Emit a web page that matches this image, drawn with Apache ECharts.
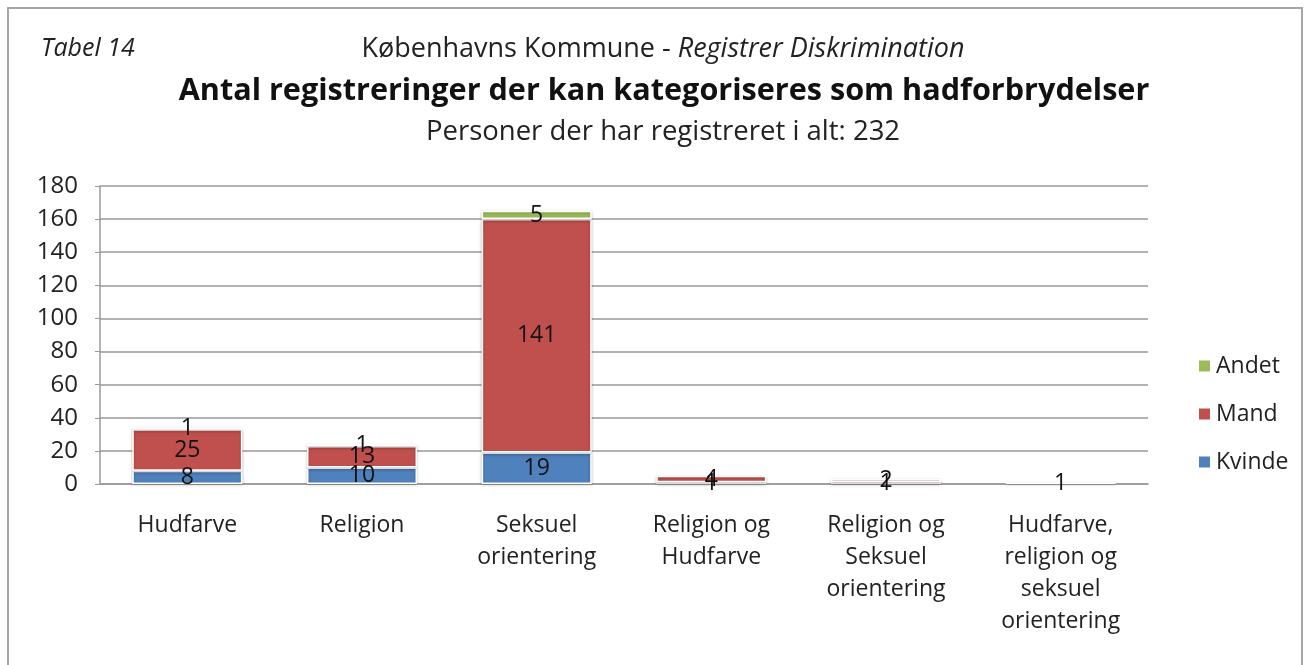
<!DOCTYPE html>
<html>
<head>
<meta charset="UTF-8">
<script src="https://cdn.jsdelivr.net/npm/echarts@6/dist/echarts.min.js"></script>
<style>
  html, body { margin: 0; padding: 0; background: #fff; }
  #frame { position: absolute; left: 7px; top: 7px; width: 1296px; height: 670px; border: 2px solid #a6a6a6; box-sizing: border-box; }
  #chart { width: 1311px; height: 665px; }
</style>
</head>
<body>
<div id="frame"></div>
<div id="chart"></div>
<script>
const categories = ['Hudfarve', 'Religion', 'Seksuel\norientering', 'Religion og\nHudfarve', 'Religion og\nSeksuel\norientering', 'Hudfarve,\nreligion og\nseksuel\norientering'];
const kvinde = [8, 10, 19, 1, 1, null];
const mand = [25, 13, 141, 4, 2, 1];
const andet = [1, 1, 5, null, null, null];
const yTicks = [0, 20, 40, 60, 80, 100, 120, 140, 160, 180];

const font = '"Open Sans", sans-serif';
const chart = echarts.init(document.getElementById('chart'));

function seriesOf(name, data, color) {
  return {
    name: name, type: 'bar', stack: 'total', data: data, barWidth: '63%',
    itemStyle: { color: color, borderColor: '#fff', borderWidth: 1.5, shadowColor: 'rgba(0,0,0,0.25)', shadowBlur: 3, shadowOffsetY: 1 },
    label: { show: true, position: 'inside', color: '#111', fontSize: 23, fontFamily: font }
  };
}

chart.setOption({
  animation: false,
  title: [
    { text: 'Tabel 14', left: 36, top: 31, textStyle: { fontSize: 25, fontStyle: 'italic', fontWeight: 'normal', color: '#222', fontFamily: font } },
    { text: '{n|Københavns Kommune - }{i|Registrer Diskrimination}', left: 658, textAlign: 'center', top: 31,
      textStyle: { rich: {
        n: { fontSize: 27, color: '#222', fontWeight: 'normal', fontFamily: font },
        i: { fontSize: 27, color: '#222', fontWeight: 'normal', fontStyle: 'italic', fontFamily: font } } } },
    { text: 'Antal registreringer der kan kategoriseres som hadforbrydelser', left: 659, textAlign: 'center', top: 71,
      textStyle: { fontSize: 30.6, fontWeight: 'bold', color: '#111', fontFamily: font } },
    { text: 'Personer der har registreret i alt: 232', left: 658, textAlign: 'center', top: 113,
      textStyle: { fontSize: 27.5, fontWeight: 'normal', color: '#222', fontFamily: font } }
  ],
  legend: {
    orient: 'vertical', left: 1192, top: 346, itemGap: 18, itemWidth: 13, itemHeight: 13, icon: 'rect',
    data: ['Andet', 'Mand', 'Kvinde'],
    textStyle: { fontSize: 23, color: '#222', fontFamily: font, lineHeight: 30 }
  },
  grid: { left: 100, right: 163, top: 186, bottom: 181 },
  xAxis: {
    type: 'category', data: categories,
    axisLine: { lineStyle: { color: '#999', width: 1.5 } },
    axisTick: { show: false },
    axisLabel: { fontSize: 23, color: '#222', fontFamily: font, lineHeight: 32, margin: 25, interval: 0 }
  },
  yAxis: {
    type: 'value', min: 0, max: 180, interval: 20,
    axisLine: { show: true, lineStyle: { color: '#999', width: 1.5 } },
    axisTick: { show: true, length: 5, lineStyle: { color: '#999' } },
    axisLabel: { fontSize: 24, color: '#222', fontFamily: font, margin: 22, formatter: v => yTicks.includes(v) ? String(v) : '' },
    splitLine: { lineStyle: { color: '#999', width: 1.5 } }
  },
  series: [
    seriesOf('Kvinde', kvinde, '#4F81BD'),
    seriesOf('Mand', mand, '#C0504D'),
    seriesOf('Andet', andet, '#9BBB59')
  ]
});
</script>
</body>
</html>
